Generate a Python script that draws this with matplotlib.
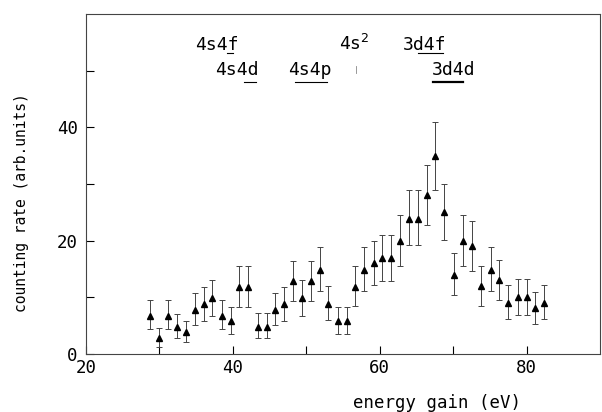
import matplotlib
matplotlib.use("Agg")
import matplotlib.pyplot as plt
import numpy as np

energy = [28.7, 29.9, 31.2, 32.4, 33.6, 34.8, 36.1, 37.2, 38.5, 39.7,
          40.9, 42.1, 43.4, 44.6, 45.8, 47.0, 48.2, 49.4, 50.6, 51.8,
          53.0, 54.3, 55.5, 56.7, 57.9, 59.2, 60.3, 61.5, 62.7, 64.0,
          65.2, 66.4, 67.5, 68.8, 70.1, 71.3, 72.5, 73.8, 75.1, 76.3,
          77.5, 78.8, 80.0, 81.2, 82.4]
rate = [6.7, 2.9, 6.7, 4.8, 3.9, 7.8, 8.8, 9.8, 6.7, 5.9,
        11.8, 11.8, 4.8, 4.8, 7.8, 8.8, 12.9, 9.8, 12.9, 14.8,
        8.8, 5.9, 5.9, 11.9, 14.9, 16.0, 16.9, 16.9, 20.0, 23.9,
        23.9, 28.0, 34.9, 25.0, 13.9, 20.0, 19.0, 12.0, 14.9, 13.1,
        9.0, 10.0, 10.0, 8.1, 9.0]
upper = [9.5, 4.6, 9.5, 7.0, 5.9, 10.7, 11.9, 13.0, 9.5, 8.3,
         15.5, 15.5, 7.2, 7.2, 10.8, 11.9, 16.5, 13.1, 16.5, 18.9,
         12.0, 8.3, 8.3, 15.5, 18.9, 20.0, 21.0, 21.0, 24.5, 28.9,
         28.9, 33.3, 40.9, 30.0, 17.8, 24.5, 23.5, 15.6, 18.9, 16.6,
         12.1, 13.2, 13.2, 10.9, 12.2]
lower = [4.4, 1.3, 4.4, 2.8, 2.1, 5.1, 5.9, 6.7, 4.4, 3.6,
         8.3, 8.3, 2.9, 2.9, 5.1, 5.9, 9.3, 6.7, 9.3, 11.1,
         6.0, 3.6, 3.6, 8.5, 11.2, 12.1, 12.8, 12.8, 15.6, 19.2,
         19.2, 22.7, 29.0, 20.1, 10.4, 15.6, 14.6, 8.5, 11.2, 9.5,
         6.2, 6.9, 6.9, 5.3, 6.2]

labels = ["4s4f", "4s4d", "4s4p", "4s$^2$", "3d4f", "3d4d"]
label_x = [37.8, 40.6, 50.5, 56.5, 66.1, 70.1]
label_y = [53.6, 49.2, 49.2, 53.6, 53.6, 49.2]
# underline bars: (x start, x end, y)
bar_x0 = [39.2, 41.5, 48.4, 65.2, 67.2]
bar_x1 = [40.0, 43.1, 52.8, 68.6, 71.4]
bar_y = [53.1, 48.0, 48.0, 53.2, 48.0]
bar_w = [0.8, 0.8, 0.8, 0.8, 1.6]

FONT = 'DejaVu Sans Mono'

fig = plt.figure(figsize=(6.02, 4.12), dpi=100)
ax = fig.add_axes([86/602, 1-354/412, (600-86)/602, (354-14)/412])

e = np.array(energy); r = np.array(rate)
yerr = [r - np.array(lower), np.array(upper) - r]
ax.errorbar(e, r, yerr=yerr, fmt='^', color='black', ms=4.8,
            ecolor='#444444', elinewidth=0.7, capsize=2.5, capthick=0.7)

ax.set_xlim(20, 90)
ax.set_ylim(0, 60)
ax.set_xticks([20, 40, 60, 80])
ax.set_xticks([30, 50, 70], minor=True)
ax.set_yticks([0, 20, 40])
ax.set_yticks([10, 30, 50], minor=True)
ax.tick_params(which='both', direction='in', length=6, width=0.8,
               labelsize=12.5, colors='black')
ax.tick_params(axis='y', pad=6)
for lab in ax.get_xticklabels() + ax.get_yticklabels():
    lab.set_family(FONT)
for s in ax.spines.values():
    s.set_linewidth(0.8)
    s.set_color('#444444')

for t, x, y in zip(labels, label_x, label_y):
    ax.text(x, y, t, fontsize=13, ha='center', va='baseline', family=FONT)
for x0, x1, y, w in zip(bar_x0, bar_x1, bar_y, bar_w):
    ax.plot([x0, x1], [y, y], color='black', lw=w)
ax.plot([56.8, 56.8], [49.6, 50.8], color='#888888', lw=0.6)

fig.text(437/602, 1-403/412, "energy gain (eV)", fontsize=12.5,
         ha='center', va='center', family=FONT)
fig.text(22/602, 1-203/412, "counting rate (arb.units)", fontsize=10.5,
         ha='center', va='center', rotation=90, family=FONT)

fig.savefig("out.png", dpi=100)
